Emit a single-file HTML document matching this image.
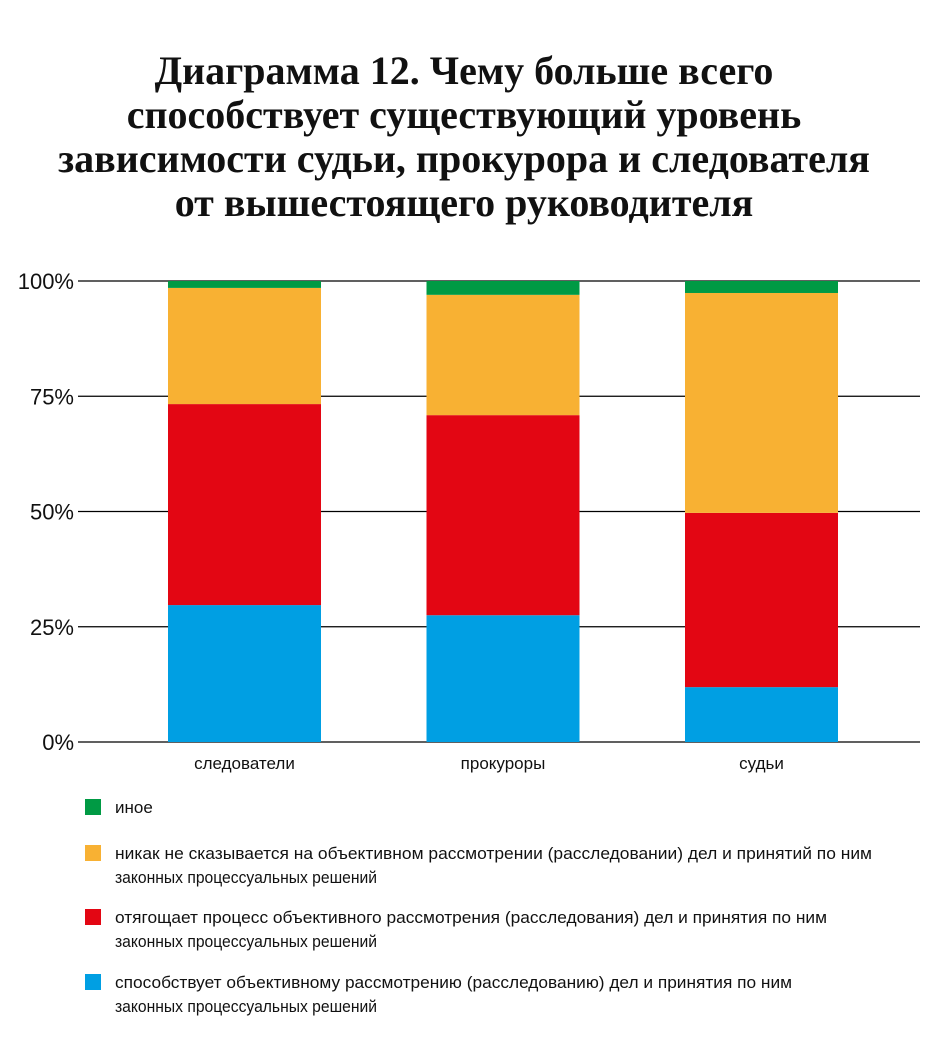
<!DOCTYPE html>
<html><head><meta charset="utf-8"><style>
body{margin:0;background:#fff;width:928px;height:1050px;overflow:hidden;font-family:"Liberation Sans",sans-serif}
.title{position:absolute;left:0;top:49px;width:928px;text-align:center;font-family:"Liberation Serif",serif;font-weight:bold;font-size:40px;line-height:44px;color:#111;white-space:nowrap}
</style></head><body>
<div class="title">Диаграмма 12. Чему больше всего<br>способствует существующий уровень<br>зависимости судьи, прокурора и следователя<br>от вышестоящего руководителя</div>
<svg id="chart" width="928" height="1050" style="position:absolute;left:0;top:0"></svg>
<script>
const categories=["следователи","прокуроры","судьи"];
const blueVals=[29.7,27.5,11.9];
const redVals=[43.6,43.4,37.8];
const yellowVals=[25.2,26.1,47.7];
const greenVals=[1.5,3.0,2.6];
const ticks=[0,25,50,75,100];
const tickLabels=["0%","25%","50%","75%","100%"];
const seriesNames=["иное","никак не сказывается на объективном рассмотрении (расследовании) дел и принятий по ним|законных процессуальных решений","отягощает процесс объективного рассмотрения (расследования) дел и принятия по ним| законных процессуальных решений","способствует объективному рассмотрению (расследованию) дел и принятия по ним| законных процессуальных решений"];
const NS="http://www.w3.org/2000/svg";
const svg=document.getElementById('chart');
const y=v=>742-v*4.61;
const x=i=>168+i*258.5;
const bw=153;
function mk(t,a){const e=document.createElementNS(NS,t);for(const k in a)e.setAttribute(k,a[k]);svg.appendChild(e);return e;}
ticks.forEach((t,i)=>{
 const l=mk('line',{x1:78,x2:920,y1:y(t),y2:y(t),stroke:'#000','stroke-width':1.3});
 
 
 const tx=mk('text',{x:74,y:y(t)+8,'text-anchor':'end','font-size':22,fill:'#111'});
 tx.textContent=tickLabels[i];
 
 
});
const series=[[blueVals,'#009fe3','blue'],[redVals,'#e30613','red'],[yellowVals,'#f8b133','yellow'],[greenVals,'#009a44','green']];
categories.forEach((c,i)=>{
 let acc=0;
 series.forEach(s=>{
  const v=s[0][i];
  const r=mk('rect',{x:x(i),y:y(acc+v),width:bw,height:y(acc)-y(acc+v),fill:s[1]});
  
  
  acc+=v;
 });
 const t=mk('text',{x:x(i)+bw/2,y:769,'text-anchor':'middle','font-size':17,fill:'#111'});
 t.textContent=c;
 
 
});
const legColors=['#009a44','#f8b133','#e30613','#009fe3'];
const legY=[799,845,909,974];
const firstLineW=[null,757,712,677];
seriesNames.forEach((n,i)=>{
 const r=mk('rect',{x:85,y:legY[i],width:16,height:16,fill:legColors[i]});
 
 
 n.split('|').forEach((ln,j)=>{
  const a={x:115,y:legY[i]+14+j*24,'font-size':17,fill:'#111'};
  if(j===0&&firstLineW[i]){a.textLength=firstLineW[i];a.lengthAdjust='spacingAndGlyphs';}
  if(j===1){a.textLength=262;a.lengthAdjust='spacingAndGlyphs';}
  const t=mk('text',a);
  t.textContent=ln.trim();
  
  
 });
});
</script>
</body></html>
